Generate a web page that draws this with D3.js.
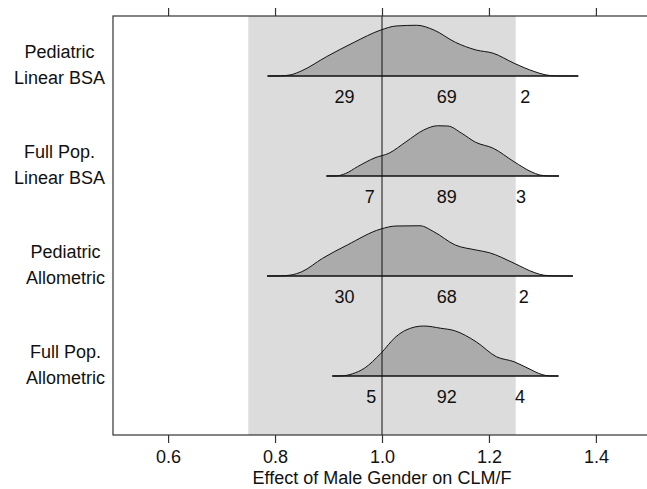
<!DOCTYPE html>
<html>
<head>
<meta charset="utf-8">
<script src="https://cdn.jsdelivr.net/npm/d3@7"></script>
<style>
  body { margin: 0; background: #fff; }
  text { font-family: "Liberation Sans", Arial, sans-serif; fill: #111; }
</style>
</head>
<body>
<svg id="chart"></svg>
<script>
// model labels (two lines each)
const models = [
  ["Pediatric", "Linear BSA"],
  ["Full Pop.", "Linear BSA"],
  ["Pediatric", "Allometric"],
  ["Full Pop.", "Allometric"]
];

// density curves (effect value, density)
const effPedLin = [0.786, 0.810, 0.830, 0.850, 0.896, 0.948, 0.998, 1.026, 1.065, 1.097, 1.137, 1.176, 1.208, 1.247, 1.286, 1.305, 1.325, 1.367];
const denPedLin = [0, 0.01, 0.10, 0.42, 1.54, 2.70, 3.68, 4.00, 4.06, 3.68, 2.70, 2.08, 1.82, 1.02, 0.34, 0.10, 0.01, 0];

const effFullLin = [0.896, 0.915, 0.932, 0.954, 0.987, 1.013, 1.045, 1.078, 1.104, 1.123, 1.149, 1.175, 1.208, 1.247, 1.279, 1.295, 1.310, 1.331];
const denFullLin = [0, 0.01, 0.20, 0.74, 1.46, 1.82, 2.74, 3.68, 4.02, 4.00, 3.42, 2.70, 2.22, 1.14, 0.34, 0.08, 0.01, 0];

const effPedAllo = [0.785, 0.810, 0.830, 0.850, 0.889, 0.935, 0.998, 1.026, 1.071, 1.097, 1.137, 1.176, 1.201, 1.247, 1.286, 1.303, 1.322, 1.357];
const denPedAllo = [0, 0.01, 0.08, 0.34, 1.42, 2.48, 3.76, 4.00, 4.02, 3.54, 2.48, 2.08, 1.86, 1.02, 0.26, 0.06, 0.01, 0];

const effFullAllo = [0.907, 0.925, 0.945, 0.967, 0.998, 1.026, 1.045, 1.078, 1.110, 1.136, 1.176, 1.214, 1.247, 1.273, 1.299, 1.312, 1.330];
const denFullAllo = [0, 0.01, 0.18, 0.62, 1.82, 3.14, 3.68, 4.00, 3.82, 3.62, 2.74, 1.54, 1.14, 0.62, 0.12, 0.01, 0];

const effects = [effPedLin, effFullLin, effPedAllo, effFullAllo];
const densities = [denPedLin, denFullLin, denPedAllo, denFullAllo];

// percent of draws below 1, within [1, 1.25], above 1.25
const pctBelow = [29, 7, 30, 5];
const pctWithin = [69, 89, 68, 92];
const pctAbove = [2, 3, 2, 4];
// where each percent sits on the effect axis
const belowAt = [0.930, 0.977, 0.930, 0.980];
const withinAt = [1.121, 1.121, 1.121, 1.121];
const aboveAt = [1.268, 1.260, 1.265, 1.258];

// reference band and line
const bandLo = 0.75, bandHi = 1.25, refLine = 1.0;
const xTicks = [0.6, 0.8, 1.0, 1.2, 1.4];
const xTitle = "Effect of Male Gender on CLM/F";

const width = 647, height = 489;
const plot = { left: 113, right: 651, top: 16, bottom: 435 };

const svg = d3.select("#chart").attr("width", width).attr("height", height);

const x = d3.scaleLinear().domain([0.497, 1.503]).range([plot.left, plot.right]);
const yRidge = d3.scalePoint().domain(d3.range(models.length)).range([76, 376]);
const yDen = d3.scaleLinear().domain([0, 4]).range([0, 50]);

// shaded band
svg.append("rect")
  .attr("x", x(bandLo))
  .attr("y", plot.top)
  .attr("width", x(bandHi) - x(bandLo))
  .attr("height", plot.bottom - plot.top)
  .attr("fill", "#dcdcdc");

// ridges
const area = d3.area()
  .x((d) => x(d[0]))
  .y0((d) => d.base)
  .y1((d) => d.base - yDen(d[1]))
  .curve(d3.curveMonotoneX);

models.forEach((m, i) => {
  const base = yRidge(i);
  const pts = effects[i].map((e, j) => {
    const p = [e, densities[i][j]];
    p.base = base;
    return p;
  });
  const g = svg.append("g");
  g.append("path")
    .attr("d", area(pts))
    .attr("fill", "#ababab")
    .attr("stroke", "none");
  g.append("path")
    .attr("d", area.lineY1()(pts))
    .attr("fill", "none")
    .attr("stroke", "#111")
    .attr("stroke-width", 1);
  g.append("line")
    .attr("x1", x(d3.min(effects[i])))
    .attr("x2", x(d3.max(effects[i])))
    .attr("y1", base)
    .attr("y2", base)
    .attr("stroke", "#111")
    .attr("stroke-width", 1.3);

  // percent labels
  const labs = [
    [pctBelow[i], belowAt[i]],
    [pctWithin[i], withinAt[i]],
    [pctAbove[i], aboveAt[i]]
  ];
  g.selectAll(".pct")
    .data(labs)
    .join("text")
    .attr("class", "pct")
    .attr("x", (d) => x(d[1]))
    .attr("y", base + 21)
    .attr("text-anchor", "middle")
    .attr("dominant-baseline", "central")
    .attr("font-size", 18)
    .text((d) => d[0]);

  // model label, block centred, right edge near the frame
  const lg = svg.append("g");
  const t = lg.selectAll("text")
    .data(m)
    .join("text")
    .attr("y", (d, k) => base + (k === 0 ? -24 : 2))
    .attr("text-anchor", "middle")
    .attr("dominant-baseline", "central")
    .attr("font-size", 18)
    .text((d) => d);
  let maxW = 0;
  t.each(function () { maxW = Math.max(maxW, this.getComputedTextLength()); });
  t.attr("x", 105 - maxW / 2);
});

// reference line at 1
svg.append("line")
  .attr("x1", x(refLine))
  .attr("x2", x(refLine))
  .attr("y1", plot.top)
  .attr("y2", plot.bottom)
  .attr("stroke", "#111")
  .attr("stroke-width", 1);

// frame
svg.append("rect")
  .attr("x", plot.left)
  .attr("y", plot.top)
  .attr("width", plot.right - plot.left)
  .attr("height", plot.bottom - plot.top)
  .attr("fill", "none")
  .attr("stroke", "#333")
  .attr("stroke-width", 1.2);

// axes
const bottomAxis = d3.axisBottom(x).tickValues(xTicks).tickSize(8).tickPadding(7)
  .tickFormat(d3.format(".1f"));
const topAxis = d3.axisTop(x).tickValues(xTicks).tickSize(8).tickFormat("");

const gb = svg.append("g").attr("transform", `translate(0,${plot.bottom})`).call(bottomAxis);
const gt = svg.append("g").attr("transform", `translate(0,${plot.top})`).call(topAxis);
[gb, gt].forEach((g) => {
  g.select(".domain").remove();
  g.selectAll(".tick line").attr("stroke", "#333").attr("stroke-width", 1.2);
});
gb.selectAll(".tick text")
  .attr("font-size", 18)
  .attr("font-family", "Liberation Sans, Arial, sans-serif")
  .attr("fill", "#111");

svg.append("text")
  .attr("x", x(1.0))
  .attr("y", 478)
  .attr("text-anchor", "middle")
  .attr("dominant-baseline", "central")
  .attr("font-size", 18)
  .text(xTitle);
</script>
</body>
</html>
